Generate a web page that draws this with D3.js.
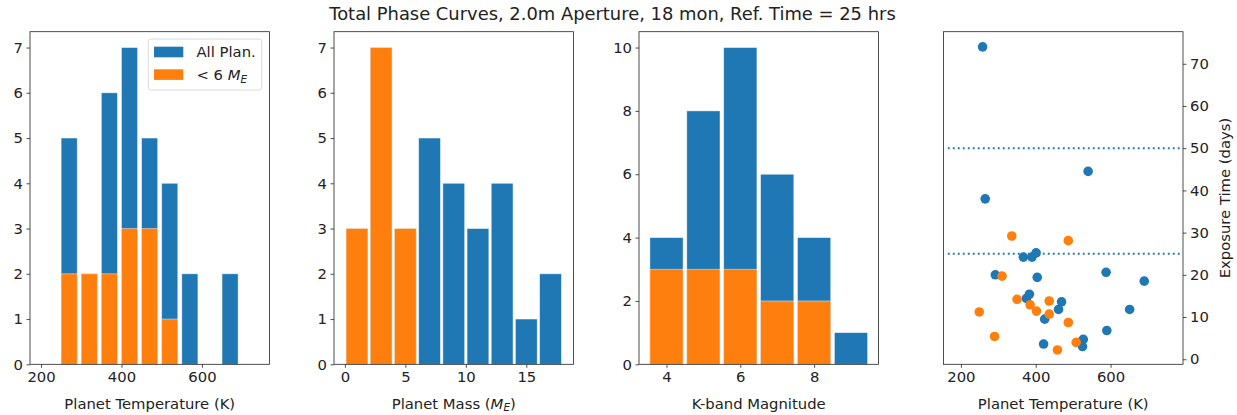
<!DOCTYPE html>
<html>
<head>
<meta charset="utf-8">
<script src="https://cdn.jsdelivr.net/npm/d3@7"></script>
<style>
  body { margin: 0; background: #fff; }
  svg text { font-family: "DejaVu Sans", sans-serif; fill: #222; }
</style>
</head>
<body>
<svg id="fig" width="1237" height="415"></svg>
<script>
// temperature histogram (bin left edges, K)
const tempBins = [250, 300, 350, 400, 450, 500, 550, 600, 650];
const tempAll = [5, 2, 6, 7, 5, 4, 2, 0, 2];
const tempSmall = [2, 2, 2, 3, 3, 1, 0, 0, 0];

// mass histogram (bin left edges, M_E)
const massBins = [0, 2, 4, 6, 8, 10, 12, 14, 16];
const massAll = [3, 7, 3, 5, 4, 3, 4, 1, 2];
const massSmall = [3, 7, 3, 0, 0, 0, 0, 0, 0];

// K-band magnitude histogram (bin centres)
const kBins = [4, 5, 6, 7, 8, 9];
const kAll = [4, 8, 10, 6, 4, 1];
const kSmall = [3, 3, 3, 2, 2, 0];

// scatter: planet temperature vs exposure time (days)
const bigTemp = [258, 265, 540, 367, 390, 401, 292, 404, 588, 690, 375, 383, 469, 461, 651, 424, 590, 421, 527, 525];
const bigExp = [74.0, 38.0, 44.5, 24.2, 24.2, 25.2, 20.0, 19.4, 20.6, 18.5, 14.4, 15.4, 13.6, 11.8, 11.8, 9.5, 6.8, 3.6, 4.7, 3.0];
const smallTemp = [336, 487, 310, 350, 385, 402, 436, 436, 249, 487, 290, 508, 458];
const smallExp = [29.2, 28.1, 19.7, 14.2, 12.9, 11.4, 13.8, 10.7, 11.2, 8.7, 5.4, 4.0, 2.2];
const refLines = [50, 25];

const blue = "#1f77b4", orange = "#ff7f0e";
const plotTop = 31.7, plotBottom = 364.3, pw = 239.5;
const fs = 14.8;
const svg = d3.select("#fig");

svg.append("text")
    .attr("x", 612.5).attr("y", 19.5)
    .attr("text-anchor", "middle")
    .attr("font-size", 17.9)
    .text("Total Phase Curves, 2.0m Aperture, 18 mon, Ref. Time = 25 hrs");

function panel(left, xdom, ydom, xticks, yticks, rightAxis) {
    let g = svg.append("g");
    let x = d3.scaleLinear().domain(xdom).range([left, left + pw]);
    let y = d3.scaleLinear().domain(ydom).range([plotBottom, plotTop]);
    let xa = g.append("g").attr("transform", "translate(0," + plotBottom + ")")
        .call(d3.axisBottom(x).tickValues(xticks).tickFormat(d3.format("d"))
            .tickSize(3.5).tickPadding(3.5));
    let ya;
    if (rightAxis) {
        ya = g.append("g").attr("transform", "translate(" + (left + pw) + ",0)")
            .call(d3.axisRight(y).tickValues(yticks).tickFormat(d3.format("d"))
                .tickSize(3.5).tickPadding(3.5));
    } else {
        ya = g.append("g").attr("transform", "translate(" + left + ",0)")
            .call(d3.axisLeft(y).tickValues(yticks).tickFormat(d3.format("d"))
                .tickSize(3.5).tickPadding(3.5));
    }
    [xa, ya].forEach(a => {
        a.select(".domain").remove();
        a.selectAll("line").attr("stroke", "#222").attr("stroke-width", 0.8);
        a.selectAll("text").attr("font-size", fs).attr("fill", "#222")
            .style("font-family", "DejaVu Sans, sans-serif");
    });
    let marks = g.append("g");
    g.append("rect")
        .attr("x", left).attr("y", plotTop)
        .attr("width", pw).attr("height", plotBottom - plotTop)
        .attr("fill", "none").attr("stroke", "#222").attr("stroke-width", 0.8);
    return {g: g, marks: marks, x: x, y: y, left: left};
}

function bars(p, lefts, vals, w0, w1, color) {
    p.marks.selectAll(null)
        .data(lefts.map((b, i) => ({b: b, v: vals[i]})).filter(d => d.v > 0))
        .join("rect")
        .attr("x", d => p.x(d.b + w0))
        .attr("width", d => p.x(d.b + w1) - p.x(d.b + w0))
        .attr("y", d => p.y(d.v))
        .attr("height", d => p.y(0) - p.y(d.v))
        .attr("fill", color)
        .attr("stroke", "#fff").attr("stroke-opacity", 0.55).attr("stroke-width", 0.8);
}

function xlabel(p) {
    return p.g.append("text")
        .attr("x", p.left + pw / 2).attr("y", 408.5)
        .attr("text-anchor", "middle").attr("font-size", fs);
}

// panel 1: temperature
let p1 = panel(30, [172.6, 768], [0, 7.35], [200, 400, 600], d3.range(0, 8), false);
bars(p1, tempBins, tempAll, 0, 40, blue);
bars(p1, tempBins, tempSmall, 0, 40, orange);
xlabel(p1).text("Planet Temperature (K)");

// legend
let lg = p1.g.append("g");
lg.append("rect").attr("x", 148.3).attr("y", 39).attr("width", 113.4).attr("height", 51)
    .attr("rx", 2.5).attr("fill", "#fff").attr("fill-opacity", 0.8)
    .attr("stroke", "#d0d0d0").attr("stroke-width", 0.8);
[["All Plan.", blue], ["< 6", orange]].forEach((d, i) => {
    lg.append("rect").attr("x", 154).attr("y", 46.7 + i * 22.6)
        .attr("width", 29.3).attr("height", 10.6).attr("fill", d[1]);
    let t = lg.append("text").attr("x", 196.5).attr("y", 57.3 + i * 22.6)
        .attr("font-size", fs).text(d[0]);
    if (i == 1) {
        t.append("tspan").text(" ");
        t.append("tspan").attr("font-style", "italic").text("M");
        t.append("tspan").attr("font-style", "italic").attr("font-size", 10.4)
            .attr("dy", 2.7).text("E");
    }
});

// panel 2: mass
let p2 = panel(334, [-0.9, 18.9], [0, 7.35], [0, 5, 10, 15], d3.range(0, 8), false);
bars(p2, massBins, massAll, 0.1, 1.9, blue);
bars(p2, massBins, massSmall, 0.1, 1.9, orange);
let ml = xlabel(p2).text("Planet Mass (");
ml.append("tspan").attr("font-style", "italic").text("M");
ml.append("tspan").attr("font-style", "italic").attr("font-size", 10.4).attr("dy", 2.7).text("E");
ml.append("tspan").attr("dy", -2.7).text(")");

// panel 3: K magnitude
let p3 = panel(639, [3.255, 9.745], [0, 10.5], [4, 6, 8], [0, 2, 4, 6, 8, 10], false);
bars(p3, kBins, kAll, -0.45, 0.45, blue);
bars(p3, kBins, kSmall, -0.45, 0.45, orange);
xlabel(p3).text("K-band Magnitude");

// panel 4: scatter
let p4 = panel(943.5, [153.5, 793.6], [-1.2, 77.6], [200, 400, 600], d3.range(0, 80, 10), true);
p4.marks.selectAll(null).data(refLines).join("line")
    .attr("x1", p4.x(165)).attr("x2", p4.x(789))
    .attr("y1", d => p4.y(d)).attr("y2", d => p4.y(d))
    .attr("stroke", blue).attr("stroke-width", 1.9)
    .attr("stroke-dasharray", "1.9,3.1");
p4.marks.selectAll(null).data(bigTemp.map((t, i) => [t, bigExp[i]])).join("circle")
    .attr("cx", d => p4.x(d[0])).attr("cy", d => p4.y(d[1])).attr("r", 4.8)
    .attr("fill", blue);
p4.marks.selectAll(null).data(smallTemp.map((t, i) => [t, smallExp[i]])).join("circle")
    .attr("cx", d => p4.x(d[0])).attr("cy", d => p4.y(d[1])).attr("r", 4.8)
    .attr("fill", orange);
xlabel(p4).text("Planet Temperature (K)");
p4.g.append("text")
    .attr("transform", "translate(1230," + ((plotTop + plotBottom) / 2) + ") rotate(-90)")
    .attr("text-anchor", "middle").attr("font-size", fs)
    .text("Exposure Time (days)");
</script>
</body>
</html>
